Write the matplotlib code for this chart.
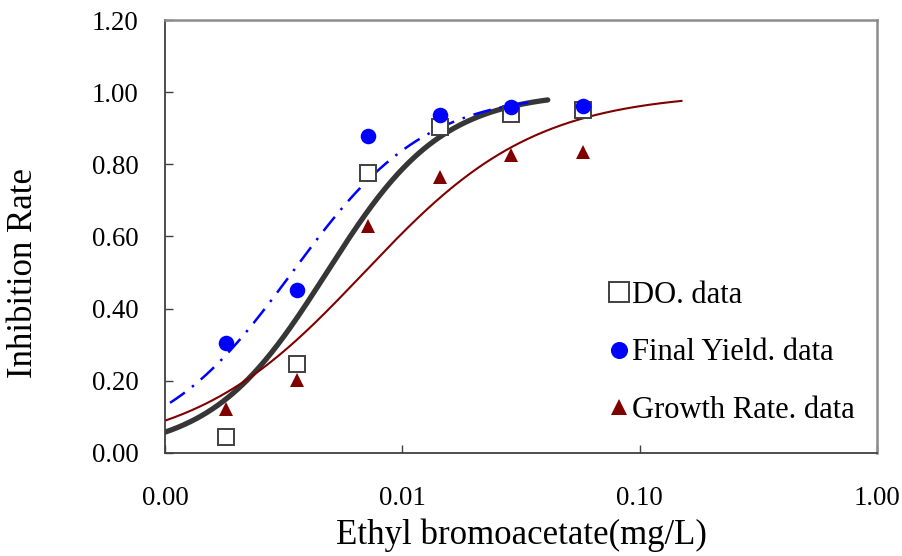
import numpy as np
import matplotlib
matplotlib.use("Agg")
import matplotlib.pyplot as plt
from matplotlib.lines import Line2D
from matplotlib.ticker import FixedLocator, NullLocator

plt.rcParams['font.family'] = ['Liberation Serif', 'DejaVu Serif']
plt.rcParams['lines.scale_dashes'] = False

# Ethyl bromoacetate concentrations (mg/L)
conc = [0.0018, 0.0036, 0.0072, 0.0144, 0.0288, 0.0576]

# Measured inhibition rates
do_rate = [0.045, 0.248, 0.775, 0.903, 0.939, 0.950]
final_yield = [0.305, 0.452, 0.878, 0.937, 0.958, 0.961]
growth_rate = [0.122, 0.201, 0.630, 0.766, 0.826, 0.833]

# Fitted dose-response (Hill) parameters: EC50 (mg/L), Hill slope, fitted x-range
do_fit = dict(ec50=0.0048, hill=1.78, xmin=0.001, xmax=0.041)
fy_fit = dict(ec50=0.00343, hill=1.54, xmin=0.00105, xmax=0.034)
gr_fit = dict(ec50=0.0069, hill=1.20, xmin=0.001, xmax=0.150)

x_ticks = [0.001, 0.01, 0.1, 1.0]
x_tick_labels = ["0.00", "0.01", "0.10", "1.00"]
y_ticks = [0.0, 0.2, 0.4, 0.6, 0.8, 1.0, 1.2]
y_tick_labels = ["0.00", "0.20", "0.40", "0.60", "0.80", "1.00", "1.20"]

series_labels = ['DO. data', 'Final Yield. data', 'Growth Rate. data']


def hill_curve(p, n=300):
    x = np.logspace(np.log10(p['xmin']), np.log10(p['xmax']), n)
    y = 1.0 / (1.0 + (p['ec50'] / x) ** p['hill'])
    return x, y


fig = plt.figure(figsize=(9.03, 5.56), dpi=100)
W, H = 903, 556
ax = fig.add_axes([165 / W, 1 - 453 / H, (877 - 165) / W, (453 - 20) / H])

# fitted curves
x, y = hill_curve(do_fit)
ax.plot(x, y, color='#363636', lw=3.8, solid_capstyle='round', zorder=2)
x, y = hill_curve(fy_fit)
ax.plot(x, y, color='#0000FF', lw=1.8, dashes=[13, 6.5, 1.8, 6.5],
        dash_capstyle='butt', zorder=2)
x, y = hill_curve(gr_fit)
ax.plot(x, y, color='#800000', lw=1.5, zorder=2)

# measured data
sq_style = dict(marker='s', mfc='white', mec='#404040', mew=1.4)
ci_style = dict(marker='o', mfc='#0000FF', mec='#0000FF', mew=0)
tr_style = dict(marker='^', mfc='#800000', mec='#800000', mew=0)

ax.plot(conc, do_rate, ls='none', ms=11.5, zorder=3, **sq_style)
ax.plot(conc, final_yield, ls='none', ms=11.2, zorder=4, **ci_style)
ax.plot(conc, growth_rate, ls='none', ms=10.5, zorder=5, **tr_style)

ax.set_xscale('log')
ax.set_xlim(0.001, 1.0)
ax.set_ylim(0.0, 1.2)
ax.xaxis.set_major_locator(FixedLocator(x_ticks))
ax.xaxis.set_minor_locator(NullLocator())
ax.set_xticklabels(x_tick_labels)
ax.set_yticks(y_ticks)
ax.set_yticklabels(y_tick_labels)
ax.tick_params(axis='both', direction='in', length=6, width=1.0,
               color='#404040', labelsize=19.3, pad=19)
ax.tick_params(axis='x', pad=24)

for side in ('left', 'bottom'):
    ax.spines[side].set_color('#404040')
    ax.spines[side].set_linewidth(1.3)
for side in ('top', 'right'):
    ax.spines[side].set_color('#8c8c8c')
    ax.spines[side].set_linewidth(1.8)

ax.set_xlabel('Ethyl bromoacetate(mg/L)', fontsize=25)
ax.xaxis.label.set_va('center')
ax.xaxis.set_label_coords(0.5, (453 - 535) / (453 - 20))

fig.text(24 / W, 1 - 273.5 / H, 'Inhibition Rate', fontsize=25, rotation=90,
         ha='center', va='center')

# legend keys
handles = [Line2D([], [], ls='none', ms=13.7, **sq_style),
           Line2D([], [], ls='none', ms=12.3, **ci_style),
           Line2D([], [], ls='none', ms=11.8, **tr_style)]
ax.legend(handles, series_labels, loc='upper left',
          bbox_to_anchor=(610 / W, 1 - 281 / H),
          bbox_transform=fig.transFigure, frameon=False, fontsize=22,
          handlelength=0.6, handletextpad=0.12,
          labelspacing=0.93, borderpad=0, borderaxespad=0)

fig.savefig('out.png', dpi=100)
